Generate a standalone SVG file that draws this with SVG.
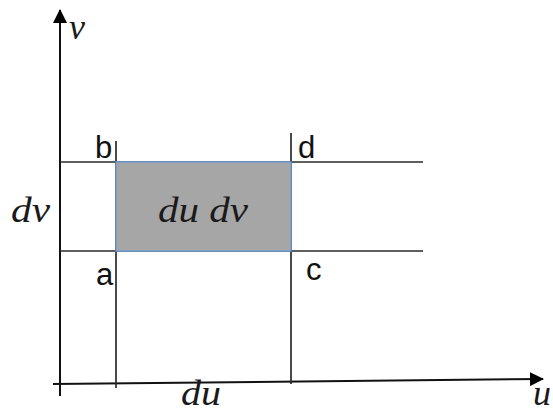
<svg xmlns="http://www.w3.org/2000/svg" width="553" height="414" viewBox="0 0 553 414">
  <defs>
    <marker id="arr" markerWidth="14" markerHeight="14" refX="13" refY="7" orient="auto" markerUnits="userSpaceOnUse">
      <path d="M0,0 L14,7 L0,14 Z" fill="#000"/>
    </marker>
    <style>
      .axis { stroke: #111; stroke-width: 2; fill: none; }
      .grid { stroke: #2a2a2a; stroke-width: 1.7; fill: none; }
      .pt { font-family: "Liberation Sans", "DejaVu Sans", sans-serif; font-size: 31px; fill: #111; }
      .math { font-family: "Liberation Serif", "DejaVu Serif", serif; font-style: italic; font-size: 36px; fill: #1a1a1a; }
    </style>
  </defs>
  <rect width="553" height="414" fill="#fff"/>

  <g id="connectors">
    <line class="axis" x1="60" y1="396" x2="60" y2="10" marker-end="url(#arr)"/>
    <line class="axis" x1="53" y1="384" x2="543" y2="379" marker-end="url(#arr)"/>
    <line class="grid" x1="60" y1="162" x2="423" y2="162"/>
    <line class="grid" x1="60" y1="251" x2="423" y2="251"/>
    <line class="grid" x1="116" y1="141" x2="116" y2="388"/>
    <line class="grid" x1="291" y1="133" x2="291" y2="384"/>
  </g>

  <g id="area">
    <rect x="116" y="162" width="175" height="89" fill="#a6a6a6" stroke="#6f9fd3" stroke-width="1.5"/>
    <text class="math" x="203" y="222" text-anchor="middle" textLength="90" lengthAdjust="spacingAndGlyphs">du dv</text>
  </g>

  <g id="point-a"><text class="pt" x="96" y="285">a</text></g>
  <g id="point-b"><text class="pt" x="95" y="158">b</text></g>
  <g id="point-c"><text class="pt" x="306" y="280">c</text></g>
  <g id="point-d"><text class="pt" x="298" y="158">d</text></g>

  <g id="label-v"><text class="math" x="69" y="39">v</text></g>
  <g id="label-u"><text class="math" x="533" y="405">u</text></g>
  <g id="label-dv"><text class="math" x="11" y="222" textLength="39" lengthAdjust="spacingAndGlyphs">dv</text></g>
  <g id="label-du"><text class="math" x="181" y="405" textLength="40" lengthAdjust="spacingAndGlyphs">du</text></g>
</svg>
